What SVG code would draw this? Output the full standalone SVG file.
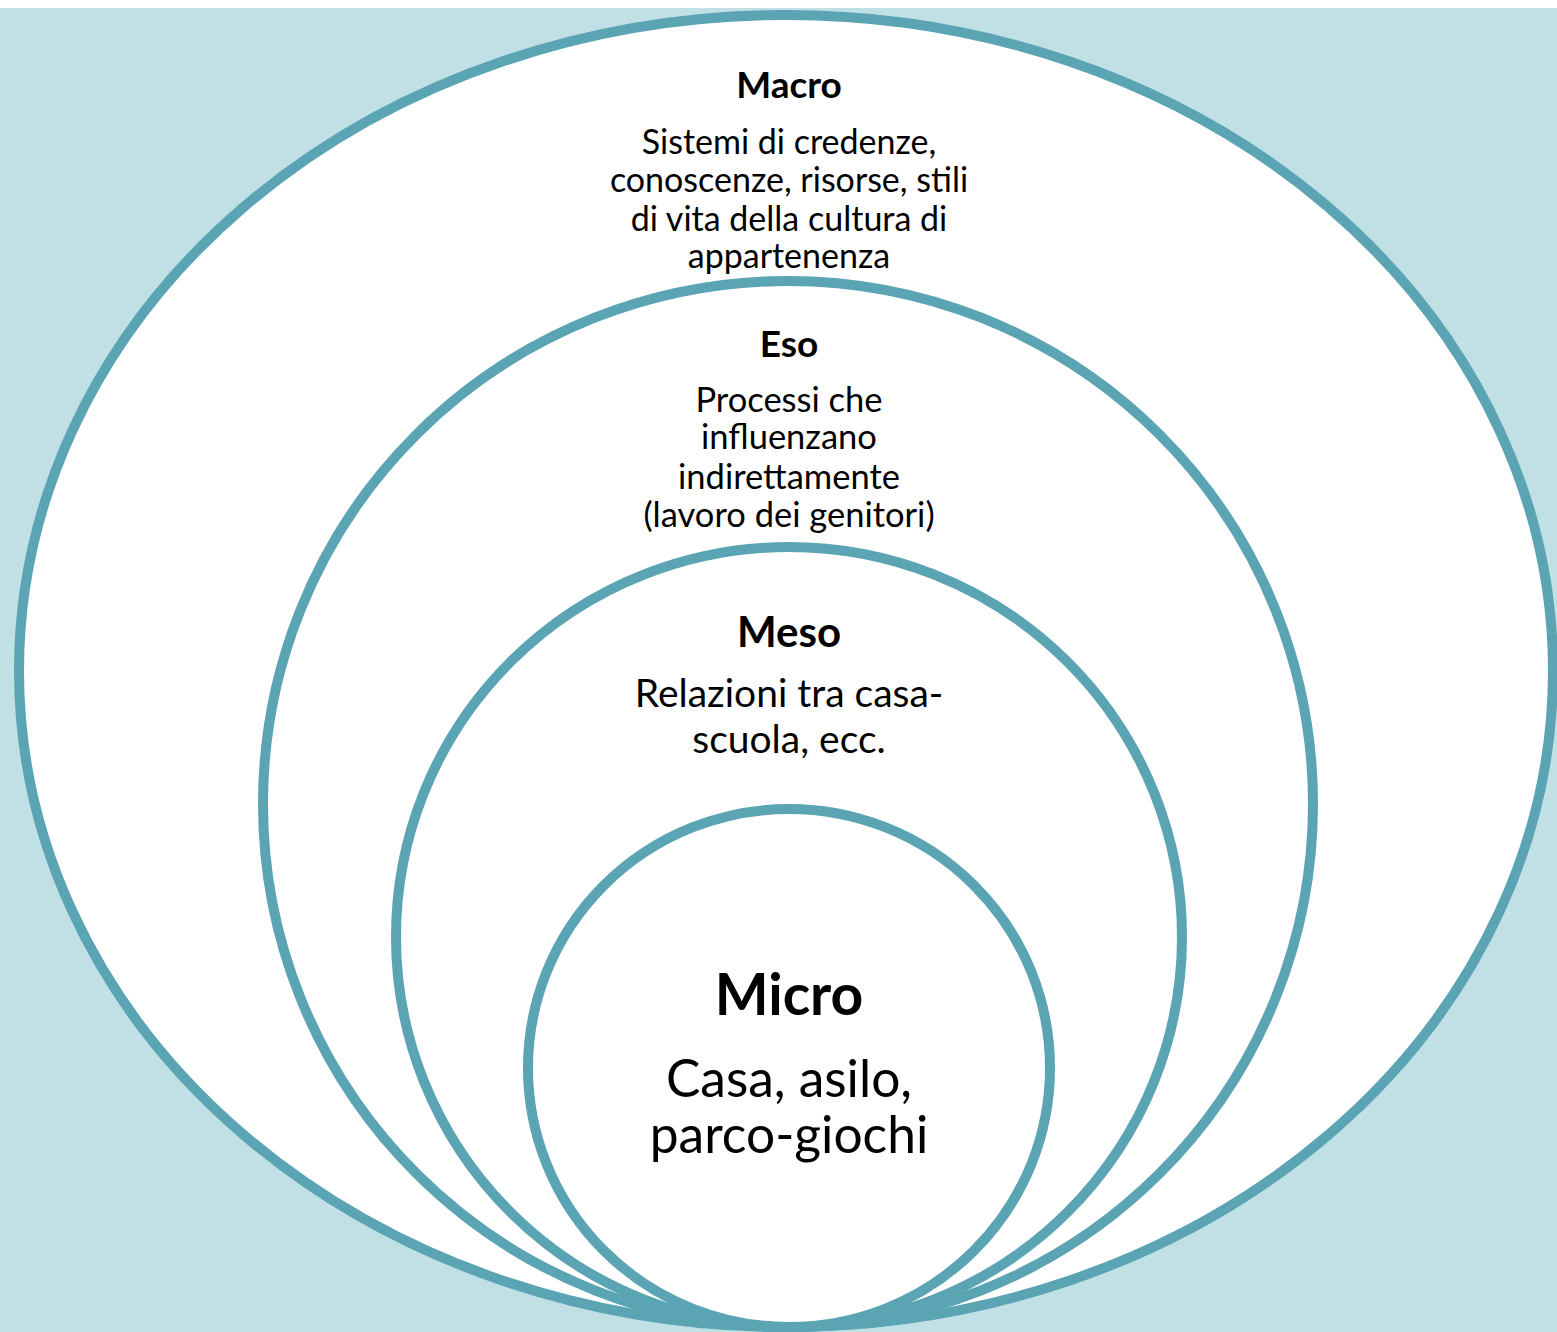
<svg xmlns="http://www.w3.org/2000/svg" width="1557" height="1332" viewBox="0 0 1557 1332">
<style>
.ring{fill:#FFFFFF;stroke:#5AA4B4;stroke-width:10}
text{font-family:Lato,"Open Sans","Liberation Sans",sans-serif;fill:#000;text-anchor:middle}
.t{font-weight:bold}
</style>
<rect x="0" y="0" width="1557" height="1332" fill="#FFFFFF"/>
<rect x="0" y="8" width="1557" height="1324" fill="#C0E0E6"/>
<g id="macro">
<ellipse class="ring" cx="786" cy="671" rx="767" ry="656"/>
<text class="t" x="789" y="98" font-size="37">Macro</text>
<text x="789" y="154" font-size="34">Sistemi di credenze,</text>
<text x="789" y="192" font-size="34">conoscenze, risorse, stili</text>
<text x="789" y="231" font-size="34">di vita della cultura di</text>
<text x="789" y="268" font-size="34">appartenenza</text>
</g>
<g id="eso">
<ellipse class="ring" cx="788" cy="804" rx="525" ry="523"/>
<text class="t" x="789" y="357" font-size="37">Eso</text>
<text x="789" y="412" font-size="34.5">Processi che</text>
<text x="789" y="449" font-size="34.5">influenzano</text>
<text x="789" y="489" font-size="34.5">indirettamente</text>
<text x="789" y="527" font-size="34.5">(lavoro dei genitori)</text>
</g>
<g id="meso">
<ellipse class="ring" cx="789" cy="937" rx="393" ry="390"/>
<text class="t" x="789" y="647" font-size="42">Meso</text>
<text x="789" y="707" font-size="39">Relazioni tra casa-</text>
<text x="789" y="753" font-size="39">scuola, ecc.</text>
</g>
<g id="micro">
<ellipse class="ring" cx="789" cy="1068" rx="261" ry="259"/>
<text class="t" x="789" y="1015" font-size="57">Micro</text>
<text x="789" y="1097" font-size="51.5">Casa, asilo,</text>
<text x="789" y="1153" font-size="51.5">parco-giochi</text>
</g>
<g id="connectors"></g>
</svg>
